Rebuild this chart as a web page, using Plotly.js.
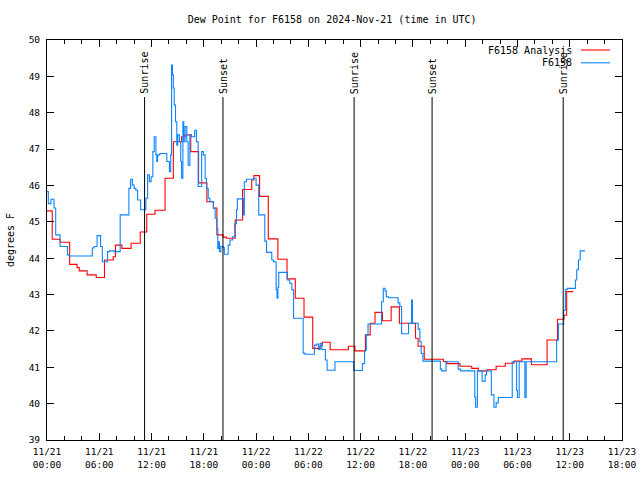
<!DOCTYPE html>
<html>
<head>
<meta charset="utf-8">
<script src="https://cdn.plot.ly/plotly-3.0.1.min.js"></script>
<style>html,body{margin:0;padding:0;background:#fff}#chart{width:640px;height:480px}</style>
</head>
<body>
<div id="chart"></div>
<script>
// Hours since 2024-11-21 00:00 UTC
const analysisHours = [0,0.6,1.5,2.6,3.45,3.7,4.6,5.65,6.6,7.6,7.85,8.6,9.65,10.7,11.45,12.4,13.55,14.5,15.45,15.85,16.5,17.4,18.35,19.1,19.5,20.2,20.6,21.6,22.45,23.5,23.75,24.4,25.4,26.5,27.55,28.5,29.5,30.5,31.35,31.6,32.5,34.6,35.35,36.55,37.1,37.65,38.5,39.5,40.45,42.3,42.6,43.3,45.5,45.9,47.4,48.75,49.5,50.5,51.55,52.6,53.6,54.5,55.6,57.4,58.6,59.35,59.65,60.4];
const analysisVals = [45.3,44.52,44.44,43.83,43.74,43.65,43.54,43.47,43.95,44.04,44.36,44.27,44.41,44.72,45.21,45.32,46.2,47.2,47.34,47.39,46.93,46.07,45.55,45.38,44.64,44.58,44.55,45.05,45.89,46.15,46.27,45.7,44.53,43.97,43.43,42.9,42.38,41.52,41.6,41.69,41.48,41.58,41.45,41.89,42.21,42.51,42.28,42.66,42.21,41.8,41.58,41.22,41.16,41.1,41.03,40.97,40.9,40.93,41.03,41.11,41.17,41.23,41.07,41.75,42.32,42.43,43.08,43.08];

const obsHours = [0,0.15,0.45,0.8,1.0,1.5,2.35,2.55,5.2,5.4,5.75,6.15,6.35,6.95,7.15,7.7,8.4,9.4,9.6,9.8,10.0,10.2,10.4,10.75,11.35,11.55,11.75,11.95,12.15,12.3,12.5,12.6,12.7,12.95,13.75,14.05,14.2,14.3,14.4,14.5,14.6,14.75,14.9,15.0,15.2,15.35,15.45,15.6,15.7,15.85,16.05,16.2,16.4,16.6,16.95,17.15,17.35,17.75,17.95,18.15,18.3,18.5,18.7,19.1,19.3,19.5,19.6,19.7,19.8,19.95,20.2,20.35,20.8,21.0,21.3,21.55,21.75,21.85,22.55,22.65,22.9,23.7,24.0,24.3,25.0,25.2,25.8,26.0,26.3,26.4,26.5,26.6,27.6,27.85,28.1,28.3,29.4,29.6,30.7,30.95,31.15,31.35,31.55,31.95,32.15,33.05,35.2,36.2,36.45,36.65,36.85,38.4,38.6,38.8,38.95,39.2,40.3,40.5,40.7,41.5,41.85,41.95,42.6,42.8,42.95,43.15,45.15,45.3,45.8,47.2,47.45,49.1,49.2,49.4,49.95,50.3,50.45,51.0,51.3,51.55,51.8,53.4,53.9,54.0,54.2,54.85,55.0,58.5,58.7,59.3,59.5,59.7,60.65,60.8,61.0,61.2,61.75];
const obsVals = [45.83,45.5,45.62,45.38,44.64,44.32,44.09,44.06,44.28,44.32,44.62,44.32,43.9,44.18,44.2,44.18,45.19,45.92,46.17,46.01,45.92,45.87,45.6,45.33,45.65,46.29,46.1,46.24,46.93,47.34,46.84,46.66,46.84,46.88,46.66,46.38,46.84,49.31,49.04,48.68,48.21,47.75,47.11,47.39,47.2,46.66,46.2,47.75,47.2,47.62,47.2,46.56,47.39,47.34,47.52,47.2,45.97,46.93,46.84,46.2,45.92,45.65,45.55,45.37,45.1,44.82,44.27,44.45,44.18,44.32,44.29,44.11,44.36,44.5,44.59,44.95,45.33,45.63,45.19,46.1,46.17,46.2,46.01,45.19,44.47,44.16,43.95,43.9,43.13,42.9,43.2,43.61,43.4,43.31,43.13,42.35,41.39,41.36,41.61,41.64,41.49,41.66,41.49,41.2,40.92,41.15,40.91,41.1,41.47,41.89,42.19,42.8,43.17,43.1,42.94,42.91,42.77,42.67,41.92,42.21,42.85,42.21,42.05,41.7,41.38,41.17,40.95,40.9,41.15,40.95,40.9,40.18,39.9,40.9,40.62,40.79,40.9,40.24,39.9,40.02,40.17,41.15,40.37,40.17,41.15,40.17,41.15,41.75,42.19,42.57,43.13,43.17,43.4,43.68,43.95,44.2,44.2];

const eventHours = [11.2, 20.2, 35.25, 44.2, 59.25];
const eventLabels = ["Sunrise", "Sunset", "Sunrise", "Sunset", "Sunrise"];

const tickHours = [0,6,12,18,24,30,36,42,48,54,60,66];
const tickLabels = ["11/21<br>00:00","11/21<br>06:00","11/21<br>12:00","11/21<br>18:00","11/22<br>00:00","11/22<br>06:00","11/22<br>12:00","11/22<br>18:00","11/23<br>00:00","11/23<br>06:00","11/23<br>12:00","11/23<br>18:00"];

const seriesNames = ["F6158 Analysis", "F6158"];
const seriesColors = ["#ff0000", "#0a84ff"];

const mono = "DejaVu Sans Mono, monospace";

const traces = [
  {x: analysisHours, y: analysisVals, type: "scatter", mode: "lines", name: seriesNames[0],
   line: {shape: "hv", color: seriesColors[0], width: 1.1}, showlegend: false},
  {x: obsHours, y: obsVals, type: "scatter", mode: "lines", name: seriesNames[1],
   line: {shape: "hv", color: seriesColors[1], width: 1.1}, showlegend: false}
];

const lineTop = 48.43;
const shapes = eventHours.map(h => ({type: "line", xref: "x", yref: "y", x0: h, x1: h, y0: 39, y1: lineTop,
  line: {color: "#000", width: 1}}));
const annotations = eventHours.map((h, i) => ({x: h, y: lineTop, xref: "x", yref: "y", text: eventLabels[i],
  textangle: -90, showarrow: false, xanchor: "center", yanchor: "bottom", yshift: 1,
  font: {family: mono, size: 10, color: "#000"}}));

// gnuplot-style legend (text left of sample)
const legY = [0.975, 0.943];
seriesNames.forEach((n, i) => {
  annotations.push({x: 0.917, y: legY[i], xref: "paper", yref: "paper", text: n, showarrow: false,
    xanchor: "right", yanchor: "middle", font: {family: mono, size: 10, color: "#000"}});
  shapes.push({type: "line", xref: "paper", yref: "paper", x0: 0.9287, x1: 0.979, y0: legY[i], y1: legY[i],
    line: {color: seriesColors[i], width: 1.1}});
});

const layout = {
  width: 640, height: 480,
  margin: {l: 47, r: 18, t: 40, b: 40, pad: 0},
  paper_bgcolor: "#fff", plot_bgcolor: "#fff",
  font: {family: mono, size: 10, color: "#000"},
  title: {text: "Dew Point for F6158 on 2024-Nov-21 (time in UTC)", font: {family: mono, size: 10, color: "#000"},
    x: 0.519, xanchor: "center", y: 0.96, yanchor: "middle"},
  showlegend: false,
  xaxis: {range: [0, 66], tickmode: "array", tickvals: tickHours, ticktext: tickLabels,
    ticks: "inside", ticklen: 7, tickcolor: "#000", tickwidth: 1, ticklabelstandoff: 3,
    showline: true, linecolor: "#000", linewidth: 1, mirror: "allticks",
    showgrid: false, zeroline: false, tickfont: {family: mono, size: 9.5, color: "#000"},
    minor: {tickmode: "linear", tick0: 0, dtick: 2, ticks: "inside", ticklen: 4, tickcolor: "#000", showgrid: false}},
  yaxis: {range: [39, 50], dtick: 1, tick0: 39, ticks: "inside", ticklen: 7, tickcolor: "#000", tickwidth: 1,
    ticklabelstandoff: 4,
    showline: true, linecolor: "#000", linewidth: 1, mirror: "allticks",
    showgrid: false, zeroline: false, tickfont: {family: mono, size: 9.5, color: "#000"},
    title: {text: "degrees F", font: {family: mono, size: 10, color: "#000"}, standoff: 12}},
  shapes: shapes,
  annotations: annotations,
  hovermode: false
};

Plotly.newPlot("chart", traces, layout, {displayModeBar: false, staticPlot: true});
</script>
</body>
</html>
